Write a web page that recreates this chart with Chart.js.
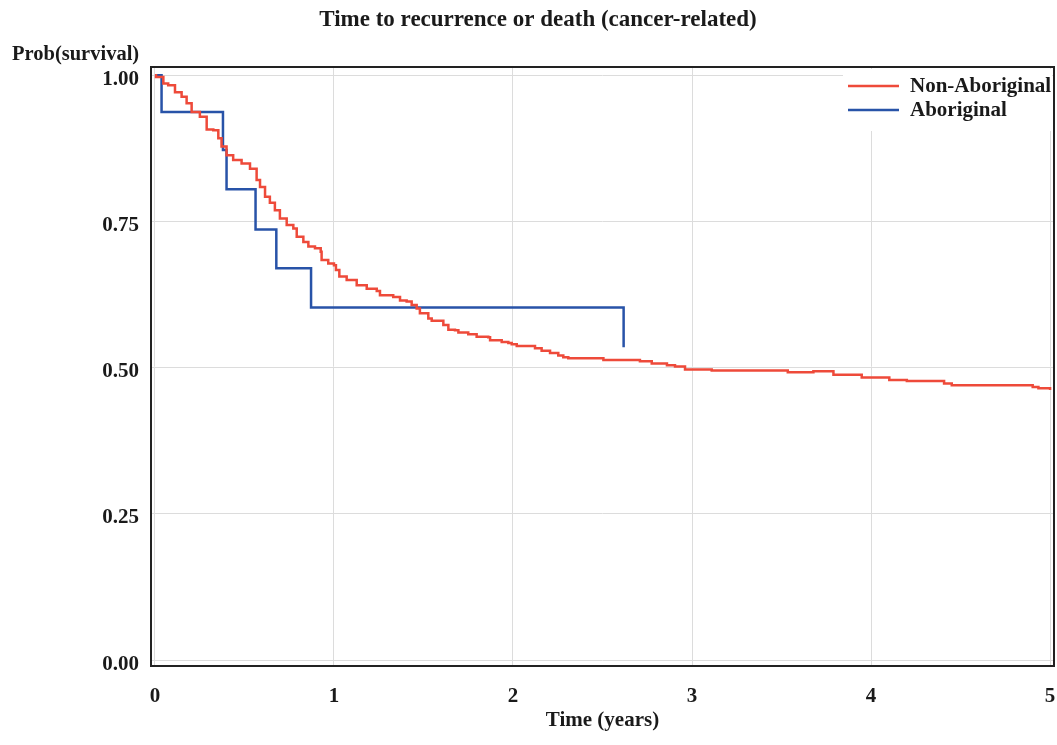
<!DOCTYPE html>
<html>
<head>
<meta charset="utf-8">
<script src="https://cdn.jsdelivr.net/npm/chart.js@4.4.1/dist/chart.umd.min.js"></script>
<style>
  body { margin: 0; background: #fff; }
  #wrap { width: 1057px; height: 745px; }
</style>
</head>
<body>
<div id="wrap"><canvas id="km"></canvas></div>
<script>
// --- dados ---
const seriesNames = ['Non-Aboriginal', 'Aboriginal'];

const nonAbTime = [0, 0.006, 0.047, 0.074, 0.112, 0.149, 0.177, 0.205, 0.251, 0.289, 0.326, 0.354, 0.372, 0.40,
  0.437, 0.484, 0.531, 0.568, 0.587, 0.615, 0.642, 0.670, 0.698, 0.736, 0.773, 0.792, 0.829, 0.857, 0.894,
  0.926, 0.931, 0.968, 1.0, 1.011, 1.03, 1.071, 1.127, 1.183, 1.239, 1.257, 1.294, 1.331, 1.369, 1.406,
  1.434, 1.462, 1.48, 1.508, 1.527, 1.546, 1.583, 1.611, 1.639, 1.676, 1.695, 1.75, 1.797, 1.862, 1.872,
  1.937, 1.955, 1.974, 1.993, 2.021, 2.123, 2.16, 2.207, 2.253, 2.281, 2.309, 2.505, 2.709, 2.775, 2.86,
  2.905, 2.961, 3.11, 3.535, 3.678, 3.79, 3.939, 3.948, 4.102, 4.2, 4.408, 4.451, 4.888, 4.903, 4.935, 5.0];
const nonAbSurv = [1.0, 0.997, 0.986, 0.983, 0.971, 0.963, 0.952, 0.937, 0.929, 0.907, 0.906, 0.892, 0.878, 0.863,
  0.855, 0.849, 0.840, 0.821, 0.809, 0.792, 0.782, 0.769, 0.755, 0.744, 0.738, 0.724, 0.715, 0.707, 0.704,
  0.698, 0.684, 0.678, 0.675, 0.667, 0.656, 0.650, 0.641, 0.635, 0.631, 0.624, 0.624, 0.621, 0.615, 0.613,
  0.607, 0.601, 0.593, 0.593, 0.584, 0.580, 0.580, 0.573, 0.565, 0.564, 0.560, 0.557, 0.553, 0.552, 0.547,
  0.544, 0.544, 0.542, 0.540, 0.537, 0.533, 0.529, 0.525, 0.521, 0.518, 0.516, 0.513, 0.511, 0.507, 0.504,
  0.502, 0.497, 0.495, 0.492, 0.494, 0.488, 0.488, 0.483, 0.479, 0.477, 0.473, 0.470, 0.470, 0.467, 0.465, 0.462];

const abTime = [0, 0.037, 0.38, 0.40, 0.562, 0.678, 0.872, 2.618, 2.618];
const abSurv = [1.0, 0.937, 0.872, 0.805, 0.736, 0.670, 0.603, 0.603, 0.535];

const xTickValues = [0, 1, 2, 3, 4, 5];
const yTickValues = [0, 0.25, 0.5, 0.75, 1];

const corVermelha = '#ee4a3a';
const corAzul = '#2853a8';
const fonteSerif = "'Liberation Serif', 'DejaVu Serif', serif";

const pares = (xs, ys) => xs.map((x, i) => ({ x, y: ys[i] }));

// --- textos e moldura desenhados à mão ---
const extras = {
  id: 'extras',
  afterDraw(chart) {
    const { ctx, chartArea: a } = chart;
    ctx.save();
    // moldura
    ctx.strokeStyle = '#222';
    ctx.lineWidth = 2;
    ctx.strokeRect(a.left, a.top, a.right - a.left, a.bottom - a.top);

    // título
    ctx.fillStyle = '#1a1a1a';
    ctx.textAlign = 'center';
    ctx.textBaseline = 'middle';
    ctx.font = `bold 23px ${fonteSerif}`;
    ctx.fillText('Time to recurrence or death (cancer-related)', 538, 20);

    // rótulo do eixo y
    ctx.textAlign = 'left';
    ctx.font = `bold 20.5px ${fonteSerif}`;
    ctx.fillText('Prob(survival)', 12, 55);

    // legenda
    const lx = 848, ly = 86;
    ctx.fillStyle = '#fff';
    ctx.fillRect(843, a.top + 2, a.right - 845, 62);
    chart.data.datasets.forEach((ds, i) => {
      const y = ly + i * 24;
      ctx.strokeStyle = ds.borderColor;
      ctx.lineWidth = 2.5;
      ctx.beginPath();
      ctx.moveTo(lx, y);
      ctx.lineTo(lx + 51, y);
      ctx.stroke();
      ctx.fillStyle = '#1a1a1a';
      ctx.font = `bold 21px ${fonteSerif}`;
      ctx.textAlign = 'left';
      ctx.fillText(ds.label, 910, y + 1);
    });
    ctx.restore();
  }
};

new Chart(document.getElementById('km'), {
  type: 'line',
  data: {
    datasets: [
      {
        label: seriesNames[0],
        data: pares(nonAbTime, nonAbSurv),
        borderColor: corVermelha,
        borderWidth: 2.5,
        stepped: 'before',
        pointRadius: 0,
        fill: false
      },
      {
        label: seriesNames[1],
        data: pares(abTime, abSurv),
        borderColor: corAzul,
        borderWidth: 2.5,
        stepped: 'before',
        pointRadius: 0,
        fill: false
      }
    ]
  },
  options: {
    responsive: true,
    maintainAspectRatio: false,
    animation: false,
    layout: { padding: { top: 67, left: 0, right: 3, bottom: 0 } },
    plugins: {
      legend: { display: false },
      title: { display: false },
      tooltip: { enabled: false }
    },
    scales: {
      x: {
        type: 'linear',
        min: -0.022,
        max: 5.022,
        afterBuildTicks: (s) => { s.ticks = xTickValues.map(v => ({ value: v })); },
        afterFit: (s) => { s.height = 79; s.paddingLeft = 0; s.paddingRight = 0; },
        grid: { color: '#dcdcdc', lineWidth: 1, drawTicks: false },
        border: { display: false },
        ticks: {
          padding: 18,
          color: '#1a1a1a',
          font: { family: fonteSerif, weight: 'bold', size: 21 },
          maxRotation: 0
        },
        title: {
          display: true,
          text: 'Time (years)',
          color: '#1a1a1a',
          font: { family: fonteSerif, weight: 'bold', size: 21 },
          padding: { top: 4, bottom: 12 }
        }
      },
      y: {
        min: -0.01,
        max: 1.014,
        afterBuildTicks: (s) => { s.ticks = yTickValues.map(v => ({ value: v })); },
        afterFit: (s) => { s.width = 151; s.paddingTop = 0; s.paddingBottom = 0; },
        grid: { color: '#dcdcdc', lineWidth: 1, drawTicks: false },
        border: { display: false },
        ticks: {
          padding: 12,
          labelOffset: 4,
          color: '#1a1a1a',
          font: { family: fonteSerif, weight: 'bold', size: 21 },
          callback: (v) => Number(v).toFixed(2)
        }
      }
    }
  },
  plugins: [extras]
});
</script>
</body>
</html>
